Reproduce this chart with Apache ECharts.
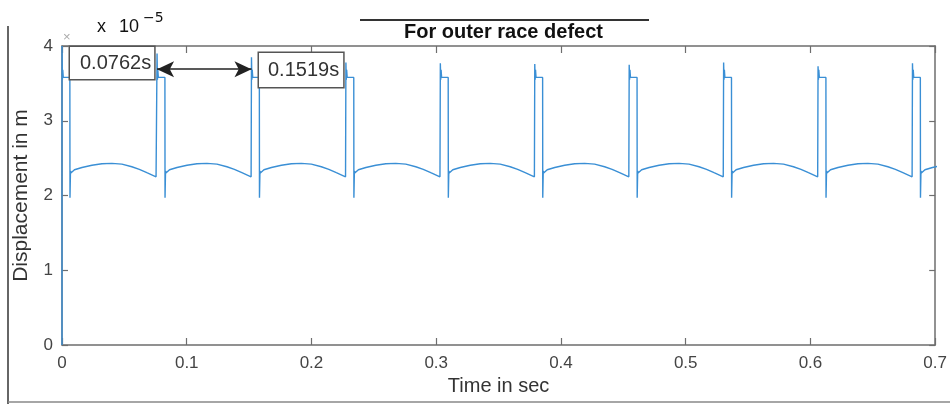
<!DOCTYPE html>
<html>
<head>
<meta charset="utf-8">
<script src="https://cdn.jsdelivr.net/npm/echarts@6/dist/echarts.min.js"></script>
<style>
  html, body { margin: 0; padding: 0; background: #fff; }
  #main { width: 950px; height: 404px; }
</style>
</head>
<body>
<div id="main"></div>
<script>
(function () {
  // spike instants (s) and the height each spike reaches (x 1e-5 m)
  var spikeTimes = [0, 0.0762, 0.1519, 0.2276, 0.3033, 0.3790, 0.4547, 0.5304, 0.6061, 0.6818];
  var spikePeaks = [4.0, 3.90, 3.85, 3.78, 3.77, 3.76, 3.75, 3.78, 3.73, 3.77];

  var cycleDt  = [0.0003, 0.0006, 0.0010, 0.0063, 0.0064, 0.0068, 0.0071, 0.0100, 0.0160, 0.0240, 0.0320, 0.0400, 0.0480, 0.0560, 0.0620, 0.0680, 0.0754];
  var cycleVal = [3.55,   3.68,   3.58,   3.58,   1.97,   2.33,   2.30,   2.345,  2.375,  2.405,  2.425,  2.43,   2.42,   2.385,  2.35,   2.305,  2.25];

  var xTicks = ["0", "0.1", "0.2", "0.3", "0.4", "0.5", "0.6", "0.7"];
  var yTicks = ["0", "1", "2", "3", "4"];

  var points = [[0, 0]];
  for (var i = 0; i < spikeTimes.length; i++) {
    points.push([spikeTimes[i], spikePeaks[i]]);
    for (var j = 0; j < cycleDt.length; j++) {
      points.push([+(spikeTimes[i] + cycleDt[j]).toFixed(5), cycleVal[j]]);
    }
  }

  var myChart = echarts.init(document.getElementById("main"));

  var font = "Liberation Sans";
  var boxColor = "#6e6e6e";

  function xAxisOf(pos) {
    return {
      type: "value",
      position: pos,
      min: 0,
      max: 0.7,
      interval: 0.1,
      axisLine: { show: true, onZero: false, lineStyle: { color: boxColor, width: 1.5 } },
      axisTick: { show: true, inside: true, length: 7, lineStyle: { color: boxColor, width: 1.2 } },
      splitLine: { show: false },
      axisLabel: {
        show: pos === "bottom",
        margin: 10,
        color: "#444",
        fontSize: 17,
        fontFamily: font,
        formatter: function (v) { return xTicks[Math.round(v * 10)]; },
      },
    };
  }

  function yAxisOf(pos) {
    return {
      type: "value",
      position: pos,
      min: 0,
      max: 4,
      interval: 1,
      axisLine: { show: true, onZero: false, lineStyle: { color: boxColor, width: 1.5 } },
      axisTick: { show: true, inside: true, length: 6, lineStyle: { color: boxColor, width: 1.2 } },
      splitLine: { show: false },
      axisLabel: {
        show: pos === "left",
        margin: 9,
        color: "#444",
        fontSize: 17,
        fontFamily: font,
        formatter: function (v) { return yTicks[Math.round(v)]; },
      },
    };
  }

  var xBottom = xAxisOf("bottom");
  xBottom.name = "Time in sec";
  xBottom.nameLocation = "middle";
  xBottom.nameGap = 30;
  xBottom.nameTextStyle = { color: "#333", fontSize: 20, fontFamily: font };

  var yLeft = yAxisOf("left");
  yLeft.name = "Displacement in m";
  yLeft.nameLocation = "middle";
  yLeft.nameGap = 30;
  yLeft.nameTextStyle = { color: "#333", fontSize: 21, fontFamily: font };

  var option = {
    backgroundColor: "#fff",
    animation: false,
    title: {
      text: "For outer race defect",
      left: 399,
      top: 17,
      textStyle: { color: "#111", fontSize: 20, fontWeight: "bold", fontFamily: font },
    },
    grid: { left: 62, right: 11, top: 46, bottom: 59 },
    xAxis: [xBottom, xAxisOf("top")],
    yAxis: [yLeft, yAxisOf("right")],
    series: [
      {
        type: "line",
        xAxisIndex: 0,
        yAxisIndex: 0,
        data: points,
        showSymbol: false,
        clip: true,
        lineStyle: { color: "#3a8fd5", width: 1.4 },
        markLine: {
          silent: true,
          symbol: ["arrow", "arrow"],
          symbolSize: [12, 17],
          label: { show: false },
          lineStyle: { color: "#222", width: 1.5, type: "solid" },
          data: [[{ coord: [spikeTimes[1], 3.69] }, { coord: [spikeTimes[2], 3.69] }]],
        },
      },
    ],
    graphic: [
      // frame lines of the figure
      { type: "line", shape: { x1: 8, y1: 26, x2: 8, y2: 404 }, style: { stroke: "#666", lineWidth: 2 } },
      { type: "line", shape: { x1: 8, y1: 402, x2: 950, y2: 402 }, style: { stroke: "#888", lineWidth: 1.5 } },
      // line above the title
      { type: "line", shape: { x1: 360, y1: 20, x2: 649, y2: 20 }, style: { stroke: "#333", lineWidth: 2 } },
      // exponent
      { type: "text", x: 97, y: 18, style: { text: "x", font: "18px " + font, fill: "#111" } },
      { type: "text", x: 119, y: 18, style: { text: "10", font: "18px " + font, fill: "#111" } },
      { type: "text", x: 143, y: 11, style: { text: "\u22125", font: "14px DejaVu Sans", fill: "#111" } },
      { type: "text", x: 63, y: 31, style: { text: "\u00d7", font: "13px " + font, fill: "#aaa" } },
      // annotation boxes
      {
        type: "text", x: 70, y: 47, z: 10,
        style: {
          text: "0.0762s", font: "20px " + font, fill: "#333", lineHeight: 22,
          padding: [5, 3, 5, 10], borderColor: "#555", borderWidth: 1.5, backgroundColor: "#fff",
        },
      },
      {
        type: "text", x: 259, y: 53, z: 10,
        style: {
          text: "0.1519s", font: "20px " + font, fill: "#333", lineHeight: 22,
          padding: [6, 4, 6, 9], borderColor: "#555", borderWidth: 1.5, backgroundColor: "#fff",
        },
      },
    ],
  };
  myChart.setOption(option);

  window.addEventListener("resize", function () {
    myChart.resize();
  });
})();
</script>
</body>
</html>
